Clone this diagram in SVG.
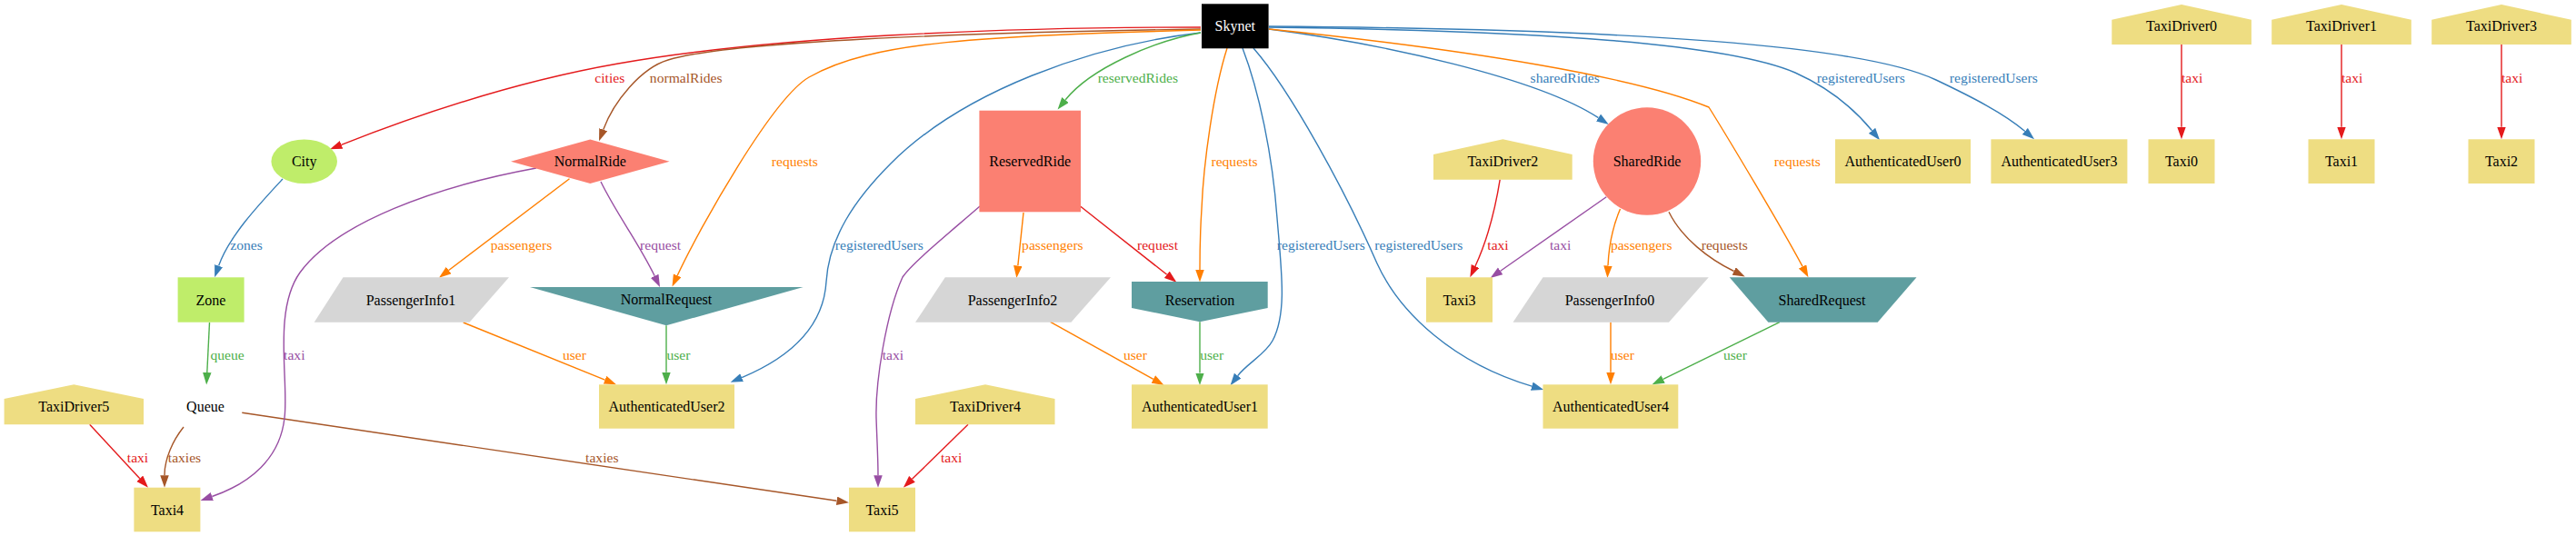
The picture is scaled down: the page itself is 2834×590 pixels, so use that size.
<svg xmlns="http://www.w3.org/2000/svg" width="2834" height="590" viewBox="0 0 2834 590">
<style>
.n text{font-family:"Liberation Serif","Times New Roman",serif;font-size:16px;text-anchor:middle;fill:#000}
.lbl{font-family:"Liberation Serif","Times New Roman",serif;font-size:15.6px;text-anchor:middle}
.e{fill:none;stroke-width:1.4}
.green{fill:#bfed6a}.salmon{fill:#fb8072}.khaki{fill:#eedd82}.teal{fill:#5f9ea0}.gray{fill:#d6d6d6}
.r{stroke:#e41a1c}.b{stroke:#377eb8}.g{stroke:#4daf4a}.p{stroke:#984ea3}.o{stroke:#ff7f00}.w{stroke:#a65628}
.tr{fill:#e41a1c}.tb{fill:#377eb8}.tg{fill:#4daf4a}.tp{fill:#984ea3}.to{fill:#ff7f00}.tw{fill:#a65628}
</style>
<defs>
<marker id="ar" markerUnits="userSpaceOnUse" markerWidth="14" markerHeight="10" refX="0" refY="4.75" orient="auto"><path d="M0,0 L13.5,4.75 L0,9.5 z" fill="#e41a1c"/></marker>
<marker id="ab" markerUnits="userSpaceOnUse" markerWidth="14" markerHeight="10" refX="0" refY="4.75" orient="auto"><path d="M0,0 L13.5,4.75 L0,9.5 z" fill="#377eb8"/></marker>
<marker id="ag" markerUnits="userSpaceOnUse" markerWidth="14" markerHeight="10" refX="0" refY="4.75" orient="auto"><path d="M0,0 L13.5,4.75 L0,9.5 z" fill="#4daf4a"/></marker>
<marker id="ap" markerUnits="userSpaceOnUse" markerWidth="14" markerHeight="10" refX="0" refY="4.75" orient="auto"><path d="M0,0 L13.5,4.75 L0,9.5 z" fill="#984ea3"/></marker>
<marker id="ao" markerUnits="userSpaceOnUse" markerWidth="14" markerHeight="10" refX="0" refY="4.75" orient="auto"><path d="M0,0 L13.5,4.75 L0,9.5 z" fill="#ff7f00"/></marker>
<marker id="aw" markerUnits="userSpaceOnUse" markerWidth="14" markerHeight="10" refX="0" refY="4.75" orient="auto"><path d="M0,0 L13.5,4.75 L0,9.5 z" fill="#a65628"/></marker>
</defs>
<rect width="2834" height="590" fill="#fff"/>

<g id="edges">
<path class="e r" marker-end="url(#ar)" d="M1321,30 C1100,30 850,40 680,70 C560,91 450,130 375.6,159.3"/>
<text class="lbl tr" x="670.8" y="90.5">cities</text>
<path class="e w" marker-end="url(#aw)" d="M1321,32 C1050,36 800,46 735,66 C705,75 675,112 663.7,142.7"/>
<text class="lbl tw" x="754.7" y="90.5">normalRides</text>
<path class="e o" marker-end="url(#ao)" d="M1321,33 C1080,40 960,45 890,85 C850,108 770,250 745.2,303.3"/>
<text class="lbl to" x="874.4" y="183">requests</text>
<path class="e b" marker-end="url(#ab)" d="M1321,36 C1200,50 1060,100 980,180 C940,220 912,262 909,310 C906,360 870,393 816.1,415.6"/>
<text class="lbl tb" x="967.3" y="274.8">registeredUsers</text>
<path class="e g" marker-end="url(#ag)" d="M1321,36 C1270,45 1200,75 1172,110"/>
<text class="lbl tg" x="1251.8" y="90.5">reservedRides</text>
<path class="e o" marker-end="url(#ao)" d="M1350,53 C1335,100 1324,180 1322,230 C1320,260 1320,280 1320,297"/>
<text class="lbl to" x="1358" y="183">requests</text>
<path class="e b" marker-end="url(#ab)" d="M1367,53 C1385,100 1400,170 1405,240 C1410,300 1416,345 1400,375 C1392,390 1372,400 1361.7,413.6"/>
<text class="lbl tb" x="1453.3" y="274.8">registeredUsers</text>
<path class="e b" marker-end="url(#ab)" d="M1379,53 C1420,100 1480,210 1515,290 C1540,345 1600,400 1685.3,425.1"/>
<text class="lbl tb" x="1560.8" y="274.8">registeredUsers</text>
<path class="e b" marker-end="url(#ab)" d="M1396,32 C1520,48 1690,85 1758.5,129.6"/>
<text class="lbl tb" x="1721.7" y="90.5">sharedRides</text>
<path class="e o" marker-end="url(#ao)" d="M1396,32 C1620,55 1800,85 1880,118 C1900,150 1960,250 1983.1,293.4"/>
<text class="lbl to" x="1977.4" y="183">requests</text>
<path class="e b" marker-end="url(#ab)" d="M1396,30 C1700,34 1900,48 1975,80 C2015,98 2040,120 2059.5,143.8"/>
<text class="lbl tb" x="2047.3" y="90.5">registeredUsers</text>
<path class="e b" marker-end="url(#ab)" d="M1396,29 C1800,32 2050,50 2130,88 C2170,107 2205,125 2227.8,144.5"/>
<text class="lbl tb" x="2193.3" y="90.5">registeredUsers</text>

<path class="e b" marker-end="url(#ab)" d="M311,197 C285,225 252,260 240.6,292.6"/>
<text class="lbl tb" x="271" y="274.8">zones</text>
<path class="e g" marker-end="url(#ag)" d="M230.5,355 L227.8,410"/>
<text class="lbl tg" x="250" y="396">queue</text>
<path class="e w" marker-end="url(#aw)" d="M202,470 C190,485 181,505 181,523.2"/>
<text class="lbl tw" x="203" y="508.8">taxies</text>
<path class="e w" marker-end="url(#aw)" d="M266.3,454.3 L920.6,551.3"/>
<text class="lbl tw" x="662.3" y="508.8">taxies</text>
<path class="e r" marker-end="url(#ar)" d="M98.7,467.3 L153.8,526.8"/>
<text class="lbl tr" x="151.5" y="508.8">taxi</text>
<path class="e p" marker-end="url(#ap)" d="M590,185 C480,205 370,245 330,300 C300,342 318,420 313,460 C308,505 275,532 233.3,546.5"/>
<text class="lbl tp" x="323.8" y="396">taxi</text>
<path class="e o" marker-end="url(#ao)" d="M626.5,196.7 L493.7,297.5"/>
<text class="lbl to" x="573.5" y="274.8">passengers</text>
<path class="e p" marker-end="url(#ap)" d="M661,200 C678,235 703,268 720.2,303.8"/>
<text class="lbl tp" x="726.6" y="274.8">request</text>
<path class="e o" marker-end="url(#ao)" d="M509.7,355 L665.5,418.2"/>
<text class="lbl to" x="632" y="396">user</text>
<path class="e g" marker-end="url(#ag)" d="M733,358.3 L733,409.8"/>
<text class="lbl tg" x="746.4" y="396">user</text>
<path class="e p" marker-end="url(#ap)" d="M1078,227 C1040,260 1003,290 993,305 C975,345 963,420 964,460 C965,490 966,505 966,523.2"/>
<text class="lbl tp" x="982.4" y="396">taxi</text>
<path class="e o" marker-end="url(#ao)" d="M1126,234 L1119.8,292.6"/>
<text class="lbl to" x="1157.9" y="274.8">passengers</text>
<path class="e r" marker-end="url(#ar)" d="M1188.8,227.3 L1283.8,302.3"/>
<text class="lbl tr" x="1273.5" y="274.8">request</text>
<path class="e o" marker-end="url(#ao)" d="M1155.6,354.3 L1268.8,417.4"/>
<text class="lbl to" x="1249" y="396">user</text>
<path class="e g" marker-end="url(#ag)" d="M1320,354.3 L1320,410.5"/>
<text class="lbl tg" x="1333.2" y="396">user</text>
<path class="e r" marker-end="url(#ar)" d="M1065,467.3 L1003.5,527.3"/>
<text class="lbl tr" x="1046.6" y="508.8">taxi</text>
<path class="e r" marker-end="url(#ar)" d="M1650.2,197.7 C1645,230 1636,265 1623,293"/>
<text class="lbl tr" x="1648" y="274.8">taxi</text>
<path class="e p" marker-end="url(#ap)" d="M1767.3,216.7 L1650.7,298.3"/>
<text class="lbl tp" x="1716.6" y="274.8">taxi</text>
<path class="e o" marker-end="url(#ao)" d="M1782.5,230 C1774,250 1770,270 1769,292.5"/>
<text class="lbl to" x="1805.7" y="274.8">passengers</text>
<path class="e w" marker-end="url(#aw)" d="M1836,233.3 C1850,262 1880,285 1907.6,298.5"/>
<text class="lbl tw" x="1897.3" y="274.8">requests</text>
<path class="e o" marker-end="url(#ao)" d="M1772,354.7 L1772,409.8"/>
<text class="lbl to" x="1785" y="396">user</text>
<path class="e g" marker-end="url(#ag)" d="M1957.8,354.7 L1829.7,417.4"/>
<text class="lbl tg" x="1909" y="396">user</text>
<path class="e r" marker-end="url(#ar)" d="M2400,49 L2400,139.8"/>
<text class="lbl tr" x="2411.6" y="90.5">taxi</text>
<path class="e r" marker-end="url(#ar)" d="M2576,49 L2576,139.8"/>
<text class="lbl tr" x="2587.6" y="90.5">taxi</text>
<path class="e r" marker-end="url(#ar)" d="M2752,49 L2752,139.8"/>
<text class="lbl tr" x="2763.6" y="90.5">taxi</text>
</g>

<g id="Skynet" class="n"><rect x="1322" y="4.3" width="73.6" height="49" fill="#000"/><text x="1358.8" y="34.3" style="fill:#fff">Skynet</text></g>
<g id="City" class="n"><ellipse class="green" cx="334.7" cy="177.7" rx="36.3" ry="24.3"/><text x="334.7" y="183.2">City</text></g>
<g id="NormalRide" class="n"><polygon class="salmon" points="562,177.7 649.3,153.4 736.6,177.7 649.3,202"/><text x="649.3" y="183.2">NormalRide</text></g>
<g id="ReservedRide" class="n"><rect class="salmon" x="1077.4" y="121.7" width="111.6" height="111.6"/><text x="1133.2" y="183.2">ReservedRide</text></g>
<g id="TaxiDriver2" class="n"><polygon class="khaki" points="1577,197.7 1577,170 1653.4,153.3 1729.7,170 1729.7,197.7"/><text x="1653.4" y="182.8">TaxiDriver2</text></g>
<g id="SharedRide" class="n"><circle class="salmon" cx="1812" cy="177.5" r="59.2"/><text x="1812" y="183">SharedRide</text></g>
<g id="AuthenticatedUser0" class="n"><rect class="khaki" x="2019" y="153.3" width="149" height="48.7"/><text x="2093.5" y="183.2">AuthenticatedUser0</text></g>
<g id="AuthenticatedUser3" class="n"><rect class="khaki" x="2190.4" y="153.3" width="150" height="48.7"/><text x="2265.4" y="183.2">AuthenticatedUser3</text></g>
<g id="TaxiDriver0" class="n"><polygon class="khaki" points="2323.3,49 2323.3,21.7 2400,5 2476.9,21.7 2476.9,49"/><text x="2400" y="34.3">TaxiDriver0</text></g>
<g id="TaxiDriver1" class="n"><polygon class="khaki" points="2499.2,49 2499.2,21.7 2576,5 2652.8,21.7 2652.8,49"/><text x="2576" y="34.3">TaxiDriver1</text></g>
<g id="TaxiDriver3" class="n"><polygon class="khaki" points="2675.2,49 2675.2,21.7 2752,5 2828.8,21.7 2828.8,49"/><text x="2752" y="34.3">TaxiDriver3</text></g>
<g id="Taxi0" class="n"><rect class="khaki" x="2363.5" y="153.3" width="73" height="48.7"/><text x="2400" y="183.2">Taxi0</text></g>
<g id="Taxi1" class="n"><rect class="khaki" x="2539.5" y="153.3" width="73" height="48.7"/><text x="2576" y="183.2">Taxi1</text></g>
<g id="Taxi2" class="n"><rect class="khaki" x="2715.5" y="153.3" width="73" height="48.7"/><text x="2752" y="183.2">Taxi2</text></g>
<g id="Zone" class="n"><rect class="green" x="195.6" y="305.3" width="73" height="49.4"/><text x="232" y="335.5">Zone</text></g>
<g id="PassengerInfo1" class="n"><polygon class="gray" points="377.5,305.3 560,305.3 516.5,354.7 345.7,354.7"/><text x="452" y="335.5">PassengerInfo1</text></g>
<g id="NormalRequest" class="n"><polygon class="teal" points="583,316 883.7,316 733,358.3"/><text x="733" y="335">NormalRequest</text></g>
<g id="PassengerInfo2" class="n"><polygon class="gray" points="1039.8,305.3 1222,305.3 1178.4,354.7 1007,354.7"/><text x="1114" y="335.5">PassengerInfo2</text></g>
<g id="Reservation" class="n"><polygon class="teal" points="1245,310 1394.7,310 1394.7,339 1320,354.3 1245,339"/><text x="1320" y="335.5">Reservation</text></g>
<g id="Taxi3" class="n"><rect class="khaki" x="1569" y="305.3" width="73" height="49.4"/><text x="1605.5" y="335.5">Taxi3</text></g>
<g id="PassengerInfo0" class="n"><polygon class="gray" points="1697.5,305.3 1879.8,305.3 1836,354.7 1664.5,354.7"/><text x="1771" y="335.5">PassengerInfo0</text></g>
<g id="SharedRequest" class="n"><polygon class="teal" points="1902.7,305.3 2108.5,305.3 2065.7,354.7 1945.4,354.7"/><text x="2004.5" y="335.5">SharedRequest</text></g>
<g id="TaxiDriver5" class="n"><polygon class="khaki" points="4.6,467.3 4.6,439 81.3,423.3 158,439 158,467.3"/><text x="81.3" y="452.8">TaxiDriver5</text></g>
<g id="Queue" class="n"><text x="226" y="452.8">Queue</text></g>
<g id="AuthenticatedUser2" class="n"><rect class="khaki" x="659" y="423.3" width="149" height="48.4"/><text x="733.5" y="452.8">AuthenticatedUser2</text></g>
<g id="TaxiDriver4" class="n"><polygon class="khaki" points="1007,467.3 1007,439 1084,423.3 1160.5,439 1160.5,467.3"/><text x="1084" y="452.8">TaxiDriver4</text></g>
<g id="AuthenticatedUser1" class="n"><rect class="khaki" x="1245" y="423.3" width="149.7" height="48.4"/><text x="1320" y="452.8">AuthenticatedUser1</text></g>
<g id="AuthenticatedUser4" class="n"><rect class="khaki" x="1697.5" y="423.3" width="148.8" height="48.4"/><text x="1772" y="452.8">AuthenticatedUser4</text></g>
<g id="Taxi4" class="n"><rect class="khaki" x="147.4" y="536.7" width="73" height="48.6"/><text x="184" y="566.5">Taxi4</text></g>
<g id="Taxi5" class="n"><rect class="khaki" x="934" y="536.7" width="73" height="48.6"/><text x="970.5" y="566.5">Taxi5</text></g>
</svg>
